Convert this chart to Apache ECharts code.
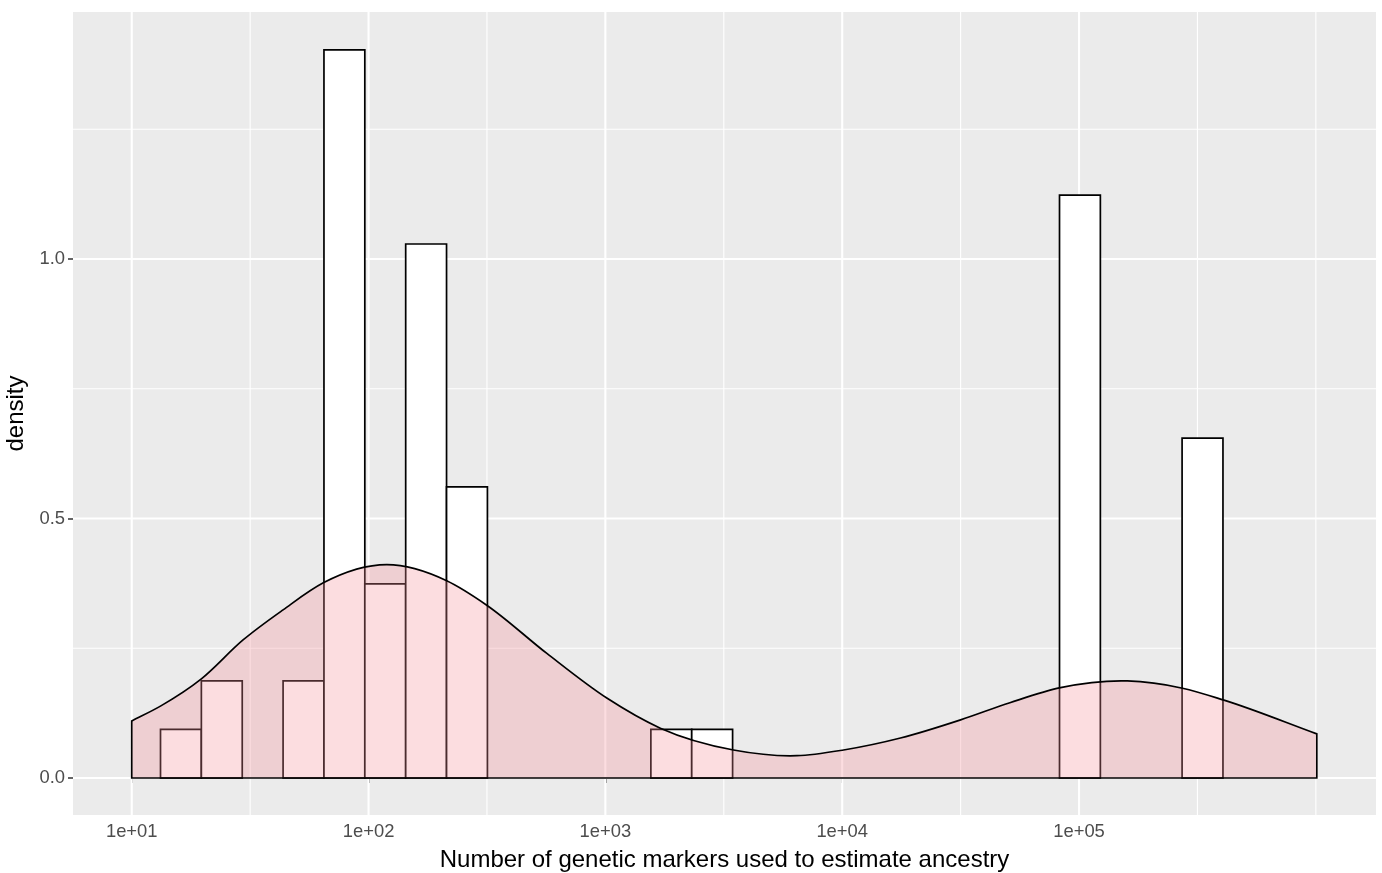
<!DOCTYPE html>
<html>
<head>
<meta charset="utf-8">
<script src="https://cdn.jsdelivr.net/npm/echarts@6/dist/echarts.min.js"></script>
<style>
html,body{margin:0;padding:0;background:#fff;}
#chart{width:1382px;height:873px;}
</style>
</head>
<body>
<div id="chart"></div>
<script>
// ---- data (x values in log10 units of the marker count) ----
const xTickValues = [1, 2, 3, 4, 5];
const xTickLabels = ['1e+01', '1e+02', '1e+03', '1e+04', '1e+05'];
const yTickValues = [0, 0.5, 1.0];
const yTickLabels = ['0.0', '0.5', '1.0'];
const xMinorGrid = [1.5, 2.5, 3.5, 4.5, 5.5, 6.0];
const yMinorGrid = [0.25, 0.75, 1.25];

// histogram bins: lower edge, upper edge (log10), density
const binLo = [1.1215, 1.2940, 1.6391, 1.8117, 1.9842, 2.1568, 2.3293, 3.1921, 3.3646, 4.9176, 5.4352];
const binHi = [1.2940, 1.4666, 1.8117, 1.9842, 2.1568, 2.3293, 2.5019, 3.3646, 3.5372, 5.0901, 5.6078];
const binDensity = [0.0936, 0.187, 0.187, 1.403, 0.374, 1.029, 0.561, 0.0936, 0.0936, 1.123, 0.655];

// kernel density curve
const densX = [1.000, 1.123, 1.294, 1.470, 1.639, 1.809, 2.077, 2.330, 2.499, 2.753, 3.006, 3.232, 3.541, 3.809, 4.006, 4.246, 4.500, 4.708, 4.922, 5.204, 5.437, 5.612, 6.004];
const densY = [0.110, 0.139, 0.191, 0.266, 0.324, 0.376, 0.411, 0.380, 0.333, 0.240, 0.154, 0.096, 0.054, 0.043, 0.054, 0.077, 0.112, 0.145, 0.174, 0.187, 0.173, 0.150, 0.085];

const xTitle = 'Number of genetic markers used to estimate ancestry';
const yTitle = 'density';

// ---- build ----
const X_MIN = 0.752, X_MAX = 6.254, Y_MIN = -0.0713, Y_MAX = 1.476;
const FONT = '"Liberation Sans", Arial, Helvetica, sans-serif';

const histData = binLo.map((lo, i) => [lo, binHi[i], binDensity[i]]);
const densData = densX.map((x, i) => [x, densY[i]]);

function vLines(width) {
  return function (params, api) {
    const p = api.coord([api.value(0), 0]);
    const cs = params.coordSys;
    return { type: 'line', shape: { x1: p[0], y1: cs.y, x2: p[0], y2: cs.y + cs.height },
      style: { stroke: '#FFFFFF', lineWidth: width } };
  };
}
function hLines(width) {
  return function (params, api) {
    const p = api.coord([X_MIN, api.value(1)]);
    const cs = params.coordSys;
    return { type: 'line', shape: { x1: cs.x, y1: p[1], x2: cs.x + cs.width, y2: p[1] },
      style: { stroke: '#FFFFFF', lineWidth: width } };
  };
}

// density polygon: smooth cubic Hermite through the read points (pixel space), closed to the baseline
function densityRender(params, api) {
  if (params.dataIndex !== 0) return null;
  const n = densData.length;
  const P = densData.map(d => api.coord(d));
  const s = new Array(n);
  for (let i = 0; i < n; i++) {
    if (i === 0) s[i] = (P[1][1] - P[0][1]) / (P[1][0] - P[0][0]);
    else if (i === n - 1) s[i] = (P[n - 1][1] - P[n - 2][1]) / (P[n - 1][0] - P[n - 2][0]);
    else {
      const h0 = P[i][0] - P[i - 1][0], h1 = P[i + 1][0] - P[i][0];
      const d0 = (P[i][1] - P[i - 1][1]) / h0, d1 = (P[i + 1][1] - P[i][1]) / h1;
      s[i] = (d0 * h1 + d1 * h0) / (h0 + h1);
    }
  }
  const b0 = api.coord([densData[0][0], 0]);
  const b1 = api.coord([densData[n - 1][0], 0]);
  let d = 'M' + b0[0] + ' ' + b0[1] + ' L' + P[0][0] + ' ' + P[0][1];
  for (let i = 0; i < n - 1; i++) {
    const h = P[i + 1][0] - P[i][0];
    d += ' C' + (P[i][0] + h / 3) + ' ' + (P[i][1] + s[i] * h / 3) + ' ' +
      (P[i + 1][0] - h / 3) + ' ' + (P[i + 1][1] - s[i + 1] * h / 3) + ' ' +
      P[i + 1][0] + ' ' + P[i + 1][1];
  }
  d += ' L' + b1[0] + ' ' + b1[1] + ' Z';
  return { type: 'path', shape: { pathData: d },
    style: { fill: 'rgba(245,142,152,0.3)', stroke: '#000000', lineWidth: 1.7, lineJoin: 'miter' } };
}

const chart = echarts.init(document.getElementById('chart'), null, { renderer: 'canvas' });
chart.setOption({
  animation: false,
  backgroundColor: '#FFFFFF',
  grid: { left: 73, right: 6, top: 12, bottom: 58, show: true, backgroundColor: '#EBEBEB', borderWidth: 0,
    containLabel: false, outerBoundsMode: 'none' },
  xAxis: {
    type: 'value', min: X_MIN, max: X_MAX,
    axisLine: { show: false },
    splitLine: { show: false },
    axisTick: { show: true, customValues: xTickValues, length: 5, lineStyle: { color: '#333333', width: 1.5 } },
    axisLabel: { customValues: xTickValues, margin: 8, color: '#4D4D4D', fontSize: 18.4, fontFamily: FONT,
      formatter: v => xTickLabels[xTickValues.indexOf(Math.round(v))] },
    name: xTitle, nameLocation: 'middle', nameGap: 33,
    nameTextStyle: { color: '#000000', fontSize: 24, fontFamily: FONT }
  },
  yAxis: {
    type: 'value', min: Y_MIN, max: Y_MAX,
    axisLine: { show: false },
    splitLine: { show: false },
    axisTick: { show: true, customValues: yTickValues, length: 5, lineStyle: { color: '#333333', width: 1.5 } },
    axisLabel: { customValues: yTickValues, margin: 8, color: '#4D4D4D', fontSize: 18.4, fontFamily: FONT,
      formatter: v => yTickLabels[yTickValues.findIndex(t => Math.abs(t - v) < 1e-6)] },
    name: yTitle, nameLocation: 'middle', nameGap: 38, nameRotate: 90,
    nameTextStyle: { color: '#000000', fontSize: 24, fontFamily: FONT }
  },
  series: [
    { type: 'custom', z: 1, silent: true, renderItem: vLines(1.1), data: xMinorGrid.map(v => [v, 0]), encode: { x: 0, y: 1 } },
    { type: 'custom', z: 1, silent: true, renderItem: hLines(1.1), data: yMinorGrid.map(v => [X_MIN, v]), encode: { x: 0, y: 1 } },
    { type: 'custom', z: 1, silent: true, renderItem: vLines(2.1), data: xTickValues.map(v => [v, 0]), encode: { x: 0, y: 1 } },
    { type: 'custom', z: 1, silent: true, renderItem: hLines(2.1), data: yTickValues.map(v => [X_MIN, v]), encode: { x: 0, y: 1 } },
    {
      type: 'custom', z: 2, silent: true,
      data: histData, encode: { x: [0, 1], y: 2 },
      renderItem: function (params, api) {
        const a = api.coord([api.value(0), 0]);
        const b = api.coord([api.value(1), api.value(2)]);
        return { type: 'rect', shape: { x: a[0], y: b[1], width: b[0] - a[0], height: a[1] - b[1] },
          style: { fill: '#FFFFFF', stroke: '#000000', lineWidth: 1.7 } };
      }
    },
    {
      type: 'custom', z: 3, silent: true, data: densData, encode: { x: 0, y: 1 },
      renderItem: densityRender
    }
  ]
});
</script>
</body>
</html>
